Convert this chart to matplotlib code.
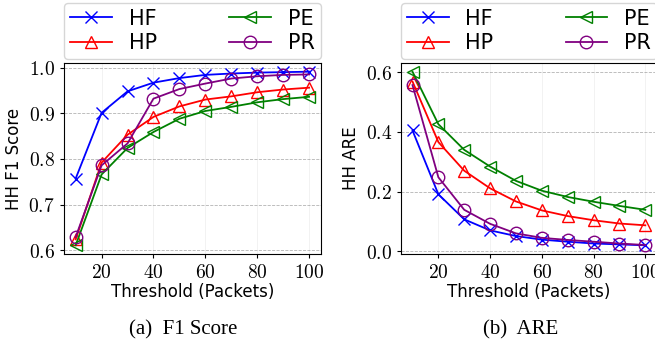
import numpy as np
import matplotlib
matplotlib.use("Agg")
import matplotlib.pyplot as plt
from matplotlib.ticker import FuncFormatter

plt.rcParams['mathtext.fontset'] = 'cm'

# data
thresholds = [10, 20, 30, 40, 50, 60, 70, 80, 90, 100]

f1_hf = [0.757, 0.901, 0.948, 0.967, 0.977, 0.984, 0.987, 0.989, 0.990, 0.991]
f1_hp = [0.624, 0.792, 0.853, 0.892, 0.915, 0.930, 0.937, 0.946, 0.952, 0.956]
f1_pe = [0.611, 0.766, 0.824, 0.859, 0.888, 0.905, 0.914, 0.924, 0.931, 0.936]
f1_pr = [0.629, 0.786, 0.834, 0.932, 0.953, 0.965, 0.976, 0.981, 0.984, 0.985]

are_hf = [0.405, 0.191, 0.107, 0.070, 0.051, 0.039, 0.032, 0.026, 0.023, 0.020]
are_hp = [0.569, 0.366, 0.270, 0.211, 0.167, 0.137, 0.118, 0.104, 0.093, 0.087]
are_pe = [0.602, 0.426, 0.340, 0.284, 0.236, 0.203, 0.182, 0.166, 0.152, 0.139]
are_pr = [0.557, 0.248, 0.139, 0.092, 0.060, 0.045, 0.038, 0.032, 0.026, 0.021]

labels = ["HF", "HP", "PE", "PR"]
colors = ["blue", "red", "green", "purple"]
markers = ["x", "^", "<", "o"]

fig = plt.figure(figsize=(6.55, 3.53), dpi=100)
ax1 = fig.add_axes([0.0977, 0.2805, 0.392, 0.541])
ax2 = fig.add_axes([0.612, 0.2805, 0.391, 0.541])


def draw(ax, series, ylabel, yfmt):
    for ys, lab, c, m in zip(series, labels, colors, markers):
        ax.plot(thresholds, ys, color=c, marker=m, label=lab, markersize=9,
                markerfacecolor='none', markeredgewidth=1.0, linewidth=1.3)
    ax.grid(True, axis='y', linestyle='--', color='gray', alpha=0.6, linewidth=0.6)
    ax.grid(True, axis='x', linestyle='-', color='lightgray', alpha=0.4, linewidth=0.5)
    ax.set_xticks([20, 40, 60, 80, 100])
    ax.xaxis.set_major_formatter(FuncFormatter(lambda v, p: '$%d$' % v))
    ax.yaxis.set_major_formatter(FuncFormatter(lambda v, p: '$' + yfmt % v + '$'))
    ax.tick_params(labelsize=14, length=3)
    ax.set_xlabel("Threshold (Packets)", fontsize=12, labelpad=1)
    ax.set_ylabel(ylabel, fontsize=12, labelpad=4)
    ax.legend(bbox_to_anchor=(0, 1.02, 1, 0.3), loc='lower left', mode='expand',
              ncol=2, fontsize=15, borderaxespad=0, handlelength=2.0,
              labelspacing=0.2, borderpad=0.3, handletextpad=0.8,
              fancybox=True, framealpha=0.8)


draw(ax1, [f1_hf, f1_hp, f1_pe, f1_pr], "HH F1 Score", '%.1f')
ax1.set_yticks([0.6, 0.7, 0.8, 0.9, 1.0])
draw(ax2, [are_hf, are_hp, are_pe, are_pr], "HH ARE", '%.1f')
ax2.set_yticks([0.0, 0.2, 0.4, 0.6])

fig.text(0.279, 0.065, "(a)  F1 Score", ha='center', va='center',
         fontsize=15, family='Liberation Serif')
fig.text(0.795, 0.065, "(b)  ARE", ha='center', va='center',
         fontsize=15, family='Liberation Serif')

fig.savefig("out.png", dpi=100)
